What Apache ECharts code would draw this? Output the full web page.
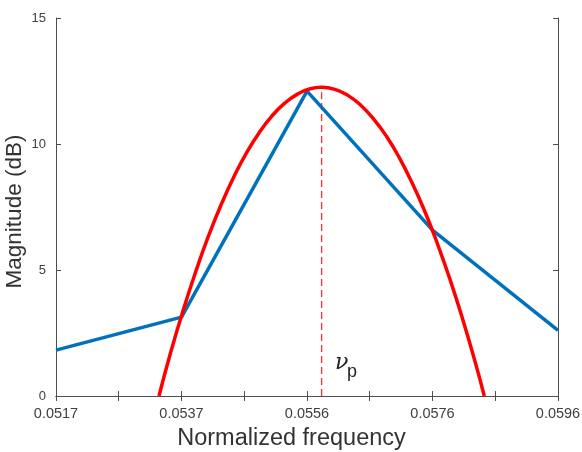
<!DOCTYPE html>
<html>
<head>
<meta charset="utf-8">
<script src="https://cdn.jsdelivr.net/npm/echarts@6/dist/echarts.min.js"></script>
<style>
  html, body { margin: 0; padding: 0; background: #fff; }
  #chart { width: 582px; height: 452px; }
</style>
</head>
<body>
<div id="chart"></div>
<script>
// --- data ---
const xTickValues = [0.0517, 0.0526875, 0.053675, 0.0546625, 0.05565, 0.0566375, 0.057625, 0.0586125, 0.0596];
const xLabelValues = [0.0517, 0.053675, 0.05565, 0.057625, 0.0596];
const xLabelTexts = ['0.0517', '0.0537', '0.0556', '0.0576', '0.0596'];

// measured response (blue)
const measuredFreq = [0.0517, 0.053675, 0.05565, 0.057625, 0.0596];
const measuredMag = [1.82, 3.13, 12.1, 6.58, 2.6];

// fitted curve (red)
const fitFreq = [0.05332, 0.0535, 0.0537, 0.0539, 0.0541, 0.0543, 0.0545, 0.0547, 0.0549, 0.0551,
  0.0553, 0.0555, 0.0557, 0.05588, 0.0561, 0.0563, 0.0565, 0.0567, 0.0569, 0.0571, 0.0573,
  0.0575, 0.0577, 0.0579, 0.0581, 0.0583, 0.05844];
const fitMag = [0, 1.69, 3.39, 4.94, 6.35, 7.6, 8.7, 9.66, 10.46, 11.12,
  11.62, 11.98, 12.19, 12.25, 12.16, 11.92, 11.53, 10.99, 10.31, 9.47, 8.48,
  7.35, 6.06, 4.63, 3.05, 1.32, 0];

// peak marker
const peakFreq = 0.05588;
const peakLineTop = 12.05;

const COLORS = {
  blue: '#0072BD',
  red: '#FF0000',
  dash: '#EE3B3B',
  axis: '#4d4d4d',
  text: '#404040'
};

const pairs = (xs, ys) => xs.map((x, i) => [x, ys[i]]);

const chart = echarts.init(document.getElementById('chart'));

const tickCommon = { show: true, inside: true, length: 5, lineStyle: { color: COLORS.axis, width: 1 } };

const option = {
  backgroundColor: '#fff',
  animation: false,
  grid: { left: 56, top: 18, right: 24, bottom: 56, containLabel: false, outerBoundsMode: 'none' },
  xAxis: [
    {
      type: 'value',
      min: 0.0517,
      max: 0.0596,
      position: 'bottom',
      name: 'Normalized frequency',
      nameLocation: 'middle',
      nameGap: 31,
      nameMoveOverlap: false,
      nameTextStyle: { fontFamily: 'Liberation Sans', fontSize: 23.5, color: '#333', padding: [0, 31, 0, 0] },
      axisLine: { show: true, lineStyle: { color: COLORS.axis, width: 1 } },
      axisTick: Object.assign({}, tickCommon, { customValues: xTickValues }),
      axisLabel: {
        customValues: xLabelValues,
        fontFamily: 'Liberation Sans',
        fontSize: 14.5,
        color: COLORS.text,
        margin: 10,
        formatter: (v) => {
          let best = 0;
          xLabelValues.forEach((lv, i) => {
            if (Math.abs(lv - v) < Math.abs(xLabelValues[best] - v)) best = i;
          });
          return xLabelTexts[best];
        }
      },
      splitLine: { show: false }
    },
    {
      type: 'value',
      min: 0.0517,
      max: 0.0596,
      position: 'top',
      axisLine: { show: true, lineStyle: { color: COLORS.axis, width: 1 } },
      axisTick: Object.assign({}, tickCommon, { customValues: xTickValues }),
      axisLabel: { show: false },
      splitLine: { show: false }
    }
  ],
  yAxis: [
    {
      type: 'value',
      min: 0,
      max: 15,
      interval: 5,
      position: 'left',
      name: 'Magnitude (dB)',
      nameLocation: 'middle',
      nameGap: 30,
      nameMoveOverlap: false,
      nameTextStyle: { fontFamily: 'Liberation Sans', fontSize: 22.5, color: '#333', padding: [0, 9, 0, 0] },
      axisLine: { show: true, lineStyle: { color: COLORS.axis, width: 1 } },
      axisTick: tickCommon,
      axisLabel: { fontFamily: 'Liberation Sans', fontSize: 13, color: COLORS.text, margin: 10 },
      splitLine: { show: false }
    },
    {
      type: 'value',
      min: 0,
      max: 15,
      interval: 5,
      position: 'right',
      axisLine: { show: true, lineStyle: { color: COLORS.axis, width: 1 } },
      axisTick: tickCommon,
      axisLabel: { show: false },
      splitLine: { show: false }
    }
  ],
  series: [
    {
      name: 'peak',
      type: 'line',
      data: [[peakFreq, 0], [peakFreq, peakLineTop]],
      showSymbol: false,
      lineStyle: { color: COLORS.dash, width: 1.4, type: [7, 4] },
      z: 1
    },
    {
      name: 'measured',
      type: 'line',
      data: pairs(measuredFreq, measuredMag),
      showSymbol: false,
      lineStyle: { color: COLORS.blue, width: 3.5 },
      z: 2
    },
    {
      name: 'fit',
      type: 'line',
      data: pairs(fitFreq, fitMag),
      smooth: true,
      showSymbol: false,
      lineStyle: { color: COLORS.red, width: 3.5 },
      z: 3
    }
  ],
  graphic: [
    {
      type: 'text',
      left: 335,
      top: 352,
      style: { text: 'ν', fontFamily: 'DejaVu Serif', fontStyle: 'italic', fontSize: 22, fill: '#222' }
    },
    {
      type: 'text',
      left: 347,
      top: 363,
      style: { text: 'p', fontFamily: 'Liberation Sans', fontSize: 18, fill: '#222' }
    }
  ]
};

chart.setOption(option);
</script>
</body>
</html>
